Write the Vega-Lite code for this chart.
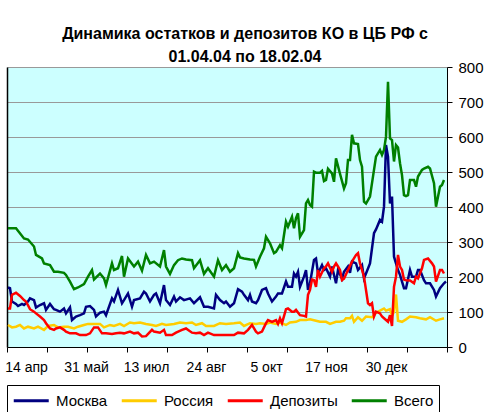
{
"$schema":"https://vega.github.io/schema/vega-lite/v6.json",
"width":440,"height":280,
"autosize":{"type":"none"},
"padding":{"left":7,"top":67,"right":39,"bottom":65},
"background":"white",
"title":{"text":["Динамика остатков и депозитов КО в ЦБ РФ с","01.04.04 по 18.02.04"],"fontSize":16,"fontWeight":"bold","font":"Liberation Sans","color":"black","lineHeight":23,"offset":-5,"anchor":"middle","dx":18},
"config":{"view":{"fill":"#CCFFFF","stroke":null},"font":"Liberation Sans"},
"datasets":{"d":[
{"n":0,"s":"Москва","v":170},{"n":1,"s":"Москва","v":168},{"n":2,"s":"Москва","v":130},{"n":4,"s":"Москва","v":123},{"n":5,"s":"Москва","v":117},{"n":7,"s":"Москва","v":123},{"n":8,"s":"Москва","v":120},{"n":10,"s":"Москва","v":130},{"n":11,"s":"Москва","v":139},{"n":13,"s":"Москва","v":134},{"n":14,"s":"Москва","v":113},{"n":16,"s":"Москва","v":120},{"n":18,"s":"Москва","v":125},{"n":19,"s":"Москва","v":106},{"n":21,"s":"Москва","v":123},{"n":23,"s":"Москва","v":108},{"n":24,"s":"Москва","v":106},{"n":26,"s":"Москва","v":101},{"n":28,"s":"Москва","v":110},{"n":29,"s":"Москва","v":96},{"n":31,"s":"Москва","v":113},{"n":32,"s":"Москва","v":77},{"n":34,"s":"Москва","v":87},{"n":36,"s":"Москва","v":91},{"n":38,"s":"Москва","v":96},{"n":39,"s":"Москва","v":115},{"n":41,"s":"Москва","v":117},{"n":43,"s":"Москва","v":106},{"n":44,"s":"Москва","v":87},{"n":46,"s":"Москва","v":98},{"n":48,"s":"Москва","v":101},{"n":49,"s":"Москва","v":91},{"n":52,"s":"Москва","v":139},{"n":53,"s":"Москва","v":130},{"n":55,"s":"Москва","v":163},{"n":57,"s":"Москва","v":125},{"n":58,"s":"Москва","v":134},{"n":60,"s":"Москва","v":153},{"n":62,"s":"Москва","v":115},{"n":63,"s":"Москва","v":134},{"n":66,"s":"Москва","v":139},{"n":68,"s":"Москва","v":158},{"n":69,"s":"Москва","v":153},{"n":71,"s":"Москва","v":130},{"n":73,"s":"Москва","v":149},{"n":74,"s":"Москва","v":153},{"n":76,"s":"Москва","v":125},{"n":78,"s":"Москва","v":177},{"n":79,"s":"Москва","v":134},{"n":81,"s":"Москва","v":120},{"n":83,"s":"Москва","v":144},{"n":84,"s":"Москва","v":130},{"n":86,"s":"Москва","v":142},{"n":88,"s":"Москва","v":134},{"n":91,"s":"Москва","v":139},{"n":93,"s":"Москва","v":125},{"n":96,"s":"Москва","v":142},{"n":98,"s":"Москва","v":115},{"n":100,"s":"Москва","v":115},{"n":103,"s":"Москва","v":110},{"n":104,"s":"Москва","v":149},{"n":106,"s":"Москва","v":134},{"n":108,"s":"Москва","v":125},{"n":109,"s":"Москва","v":130},{"n":111,"s":"Москва","v":115},{"n":113,"s":"Москва","v":125},{"n":115,"s":"Москва","v":165},{"n":117,"s":"Москва","v":158},{"n":118,"s":"Москва","v":149},{"n":120,"s":"Москва","v":134},{"n":121,"s":"Москва","v":149},{"n":122,"s":"Москва","v":130},{"n":124,"s":"Москва","v":125},{"n":125,"s":"Москва","v":134},{"n":127,"s":"Москва","v":163},{"n":129,"s":"Москва","v":168},{"n":130,"s":"Москва","v":153},{"n":132,"s":"Москва","v":130},{"n":134,"s":"Москва","v":144},{"n":135,"s":"Москва","v":153},{"n":137,"s":"Москва","v":153},{"n":139,"s":"Москва","v":187},{"n":140,"s":"Москва","v":172},{"n":142,"s":"Москва","v":172},{"n":143,"s":"Москва","v":210},{"n":144,"s":"Москва","v":201},{"n":145,"s":"Москва","v":215},{"n":146,"s":"Москва","v":172},{"n":148,"s":"Москва","v":201},{"n":149,"s":"Москва","v":220},{"n":150,"s":"Москва","v":163},{"n":151,"s":"Москва","v":182},{"n":153,"s":"Москва","v":249},{"n":154,"s":"Москва","v":253},{"n":155,"s":"Москва","v":210},{"n":157,"s":"Москва","v":234},{"n":158,"s":"Москва","v":220},{"n":159,"s":"Москва","v":225},{"n":161,"s":"Москва","v":201},{"n":162,"s":"Москва","v":230},{"n":164,"s":"Москва","v":182},{"n":165,"s":"Москва","v":220},{"n":167,"s":"Москва","v":195},{"n":168,"s":"Москва","v":215},{"n":170,"s":"Москва","v":230},{"n":171,"s":"Москва","v":212},{"n":172,"s":"Москва","v":244},{"n":174,"s":"Москва","v":239},{"n":175,"s":"Москва","v":220},{"n":177,"s":"Москва","v":234},{"n":178,"s":"Москва","v":196},{"n":179,"s":"Москва","v":210},{"n":181,"s":"Москва","v":239},{"n":183,"s":"Москва","v":325},{"n":184,"s":"Москва","v":336},{"n":186,"s":"Москва","v":363},{"n":187,"s":"Москва","v":358},{"n":188,"s":"Москва","v":401},{"n":189,"s":"Москва","v":577},{"n":190,"s":"Москва","v":544},{"n":191,"s":"Москва","v":410},{"n":192,"s":"Москва","v":430},{"n":193,"s":"Москва","v":258},{"n":194,"s":"Москва","v":239},{"n":195,"s":"Москва","v":220},{"n":196,"s":"Москва","v":206},{"n":198,"s":"Москва","v":168},{"n":199,"s":"Москва","v":168},{"n":201,"s":"Москва","v":220},{"n":202,"s":"Москва","v":201},{"n":204,"s":"Москва","v":201},{"n":205,"s":"Москва","v":220},{"n":206,"s":"Москва","v":220},{"n":208,"s":"Москва","v":191},{"n":209,"s":"Москва","v":182},{"n":211,"s":"Москва","v":182},{"n":213,"s":"Москва","v":163},{"n":214,"s":"Москва","v":144},{"n":216,"s":"Москва","v":168},{"n":218,"s":"Москва","v":182},{"n":219,"s":"Москва","v":187},
{"n":0,"s":"Россия","v":63},{"n":2,"s":"Россия","v":56},{"n":4,"s":"Россия","v":58},{"n":6,"s":"Россия","v":63},{"n":8,"s":"Россия","v":53},{"n":10,"s":"Россия","v":58},{"n":13,"s":"Россия","v":53},{"n":15,"s":"Россия","v":58},{"n":18,"s":"Россия","v":49},{"n":20,"s":"Россия","v":60},{"n":23,"s":"Россия","v":63},{"n":25,"s":"Россия","v":56},{"n":28,"s":"Россия","v":58},{"n":30,"s":"Россия","v":58},{"n":33,"s":"Россия","v":53},{"n":35,"s":"Россия","v":58},{"n":38,"s":"Россия","v":63},{"n":40,"s":"Россия","v":66},{"n":43,"s":"Россия","v":66},{"n":46,"s":"Россия","v":66},{"n":48,"s":"Россия","v":56},{"n":51,"s":"Россия","v":63},{"n":53,"s":"Россия","v":60},{"n":56,"s":"Россия","v":66},{"n":58,"s":"Россия","v":60},{"n":61,"s":"Россия","v":70},{"n":63,"s":"Россия","v":68},{"n":66,"s":"Россия","v":70},{"n":69,"s":"Россия","v":66},{"n":72,"s":"Россия","v":63},{"n":74,"s":"Россия","v":60},{"n":77,"s":"Россия","v":66},{"n":79,"s":"Россия","v":63},{"n":83,"s":"Россия","v":66},{"n":86,"s":"Россия","v":70},{"n":89,"s":"Россия","v":68},{"n":92,"s":"Россия","v":70},{"n":94,"s":"Россия","v":63},{"n":97,"s":"Россия","v":68},{"n":99,"s":"Россия","v":60},{"n":103,"s":"Россия","v":60},{"n":106,"s":"Россия","v":68},{"n":109,"s":"Россия","v":66},{"n":113,"s":"Россия","v":68},{"n":116,"s":"Россия","v":70},{"n":118,"s":"Россия","v":60},{"n":121,"s":"Россия","v":68},{"n":124,"s":"Россия","v":66},{"n":126,"s":"Россия","v":68},{"n":129,"s":"Россия","v":66},{"n":131,"s":"Россия","v":70},{"n":134,"s":"Россия","v":66},{"n":136,"s":"Россия","v":70},{"n":139,"s":"Россия","v":63},{"n":141,"s":"Россия","v":70},{"n":144,"s":"Россия","v":72},{"n":146,"s":"Россия","v":77},{"n":149,"s":"Россия","v":77},{"n":151,"s":"Россия","v":79},{"n":154,"s":"Россия","v":75},{"n":156,"s":"Россия","v":72},{"n":159,"s":"Россия","v":72},{"n":161,"s":"Россия","v":66},{"n":164,"s":"Россия","v":72},{"n":166,"s":"Россия","v":72},{"n":168,"s":"Россия","v":75},{"n":169,"s":"Россия","v":82},{"n":171,"s":"Россия","v":82},{"n":172,"s":"Россия","v":89},{"n":173,"s":"Россия","v":72},{"n":175,"s":"Россия","v":85},{"n":177,"s":"Россия","v":75},{"n":179,"s":"Россия","v":87},{"n":182,"s":"Россия","v":85},{"n":184,"s":"Россия","v":98},{"n":186,"s":"Россия","v":104},{"n":188,"s":"Россия","v":110},{"n":189,"s":"Россия","v":104},{"n":191,"s":"Россия","v":108},{"n":192,"s":"Россия","v":89},{"n":193,"s":"Россия","v":100},{"n":194,"s":"Россия","v":150},{"n":195,"s":"Россия","v":75},{"n":197,"s":"Россия","v":72},{"n":199,"s":"Россия","v":79},{"n":201,"s":"Россия","v":87},{"n":204,"s":"Россия","v":85},{"n":206,"s":"Россия","v":82},{"n":209,"s":"Россия","v":79},{"n":211,"s":"Россия","v":85},{"n":214,"s":"Россия","v":75},{"n":216,"s":"Россия","v":79},{"n":218,"s":"Россия","v":82},
{"n":0,"s":"Депозиты","v":110},{"n":1,"s":"Депозиты","v":110},{"n":2,"s":"Депозиты","v":149},{"n":4,"s":"Депозиты","v":155},{"n":6,"s":"Депозиты","v":146},{"n":8,"s":"Депозиты","v":134},{"n":9,"s":"Депозиты","v":130},{"n":11,"s":"Депозиты","v":108},{"n":13,"s":"Депозиты","v":101},{"n":14,"s":"Депозиты","v":96},{"n":16,"s":"Депозиты","v":87},{"n":18,"s":"Депозиты","v":77},{"n":19,"s":"Депозиты","v":68},{"n":21,"s":"Депозиты","v":53},{"n":23,"s":"Депозиты","v":49},{"n":24,"s":"Депозиты","v":53},{"n":26,"s":"Депозиты","v":56},{"n":28,"s":"Депозиты","v":49},{"n":29,"s":"Депозиты","v":44},{"n":31,"s":"Депозиты","v":39},{"n":34,"s":"Депозиты","v":39},{"n":36,"s":"Депозиты","v":34},{"n":39,"s":"Депозиты","v":34},{"n":41,"s":"Депозиты","v":39},{"n":43,"s":"Депозиты","v":56},{"n":45,"s":"Депозиты","v":56},{"n":47,"s":"Депозиты","v":39},{"n":49,"s":"Депозиты","v":39},{"n":52,"s":"Депозиты","v":37},{"n":54,"s":"Депозиты","v":39},{"n":56,"s":"Депозиты","v":41},{"n":58,"s":"Депозиты","v":39},{"n":61,"s":"Депозиты","v":44},{"n":63,"s":"Депозиты","v":39},{"n":65,"s":"Депозиты","v":41},{"n":67,"s":"Депозиты","v":30},{"n":69,"s":"Депозиты","v":31},{"n":72,"s":"Депозиты","v":49},{"n":73,"s":"Депозиты","v":44},{"n":76,"s":"Депозиты","v":41},{"n":78,"s":"Депозиты","v":49},{"n":79,"s":"Депозиты","v":34},{"n":82,"s":"Депозиты","v":34},{"n":84,"s":"Депозиты","v":41},{"n":87,"s":"Депозиты","v":49},{"n":89,"s":"Депозиты","v":53},{"n":92,"s":"Депозиты","v":41},{"n":94,"s":"Депозиты","v":39},{"n":96,"s":"Депозиты","v":41},{"n":98,"s":"Депозиты","v":34},{"n":100,"s":"Депозиты","v":41},{"n":103,"s":"Депозиты","v":34},{"n":106,"s":"Депозиты","v":34},{"n":109,"s":"Депозиты","v":34},{"n":113,"s":"Депозиты","v":34},{"n":115,"s":"Депозиты","v":41},{"n":118,"s":"Депозиты","v":39},{"n":120,"s":"Депозиты","v":49},{"n":122,"s":"Депозиты","v":63},{"n":124,"s":"Депозиты","v":44},{"n":125,"s":"Депозиты","v":39},{"n":127,"s":"Депозиты","v":44},{"n":129,"s":"Депозиты","v":68},{"n":130,"s":"Депозиты","v":77},{"n":132,"s":"Депозиты","v":72},{"n":134,"s":"Депозиты","v":77},{"n":135,"s":"Депозиты","v":66},{"n":136,"s":"Депозиты","v":82},{"n":137,"s":"Депозиты","v":68},{"n":139,"s":"Депозиты","v":108},{"n":140,"s":"Депозиты","v":110},{"n":142,"s":"Депозиты","v":101},{"n":143,"s":"Депозиты","v":101},{"n":144,"s":"Депозиты","v":106},{"n":146,"s":"Депозиты","v":91},{"n":148,"s":"Депозиты","v":89},{"n":149,"s":"Депозиты","v":87},{"n":150,"s":"Депозиты","v":149},{"n":151,"s":"Депозиты","v":163},{"n":152,"s":"Депозиты","v":193},{"n":153,"s":"Депозиты","v":191},{"n":154,"s":"Депозиты","v":172},{"n":155,"s":"Депозиты","v":220},{"n":156,"s":"Депозиты","v":201},{"n":158,"s":"Депозиты","v":225},{"n":159,"s":"Депозиты","v":230},{"n":160,"s":"Депозиты","v":239},{"n":162,"s":"Депозиты","v":215},{"n":163,"s":"Депозиты","v":230},{"n":164,"s":"Депозиты","v":239},{"n":165,"s":"Депозиты","v":230},{"n":166,"s":"Депозиты","v":220},{"n":167,"s":"Депозиты","v":191},{"n":168,"s":"Депозиты","v":195},{"n":170,"s":"Депозиты","v":220},{"n":172,"s":"Депозиты","v":244},{"n":174,"s":"Депозиты","v":263},{"n":175,"s":"Депозиты","v":268},{"n":176,"s":"Депозиты","v":239},{"n":177,"s":"Депозиты","v":220},{"n":178,"s":"Депозиты","v":201},{"n":180,"s":"Депозиты","v":125},{"n":181,"s":"Депозиты","v":120},{"n":182,"s":"Депозиты","v":125},{"n":183,"s":"Депозиты","v":87},{"n":184,"s":"Депозиты","v":101},{"n":186,"s":"Депозиты","v":96},{"n":187,"s":"Депозиты","v":87},{"n":188,"s":"Депозиты","v":82},{"n":190,"s":"Депозиты","v":72},{"n":191,"s":"Депозиты","v":91},{"n":192,"s":"Депозиты","v":60},{"n":193,"s":"Депозиты","v":172},{"n":194,"s":"Депозиты","v":201},{"n":195,"s":"Депозиты","v":263},{"n":196,"s":"Депозиты","v":230},{"n":197,"s":"Депозиты","v":220},{"n":198,"s":"Депозиты","v":193},{"n":199,"s":"Депозиты","v":191},{"n":201,"s":"Депозиты","v":190},{"n":203,"s":"Депозиты","v":182},{"n":204,"s":"Депозиты","v":201},{"n":205,"s":"Депозиты","v":196},{"n":207,"s":"Депозиты","v":225},{"n":208,"s":"Депозиты","v":249},{"n":210,"s":"Депозиты","v":253},{"n":212,"s":"Депозиты","v":239},{"n":213,"s":"Депозиты","v":230},{"n":214,"s":"Депозиты","v":187},{"n":216,"s":"Депозиты","v":220},{"n":217,"s":"Депозиты","v":220},{"n":218,"s":"Депозиты","v":210},
{"n":0,"s":"Всего","v":339},{"n":4,"s":"Всего","v":339},{"n":8,"s":"Всего","v":310},{"n":10,"s":"Всего","v":307},{"n":13,"s":"Всего","v":287},{"n":14,"s":"Всего","v":263},{"n":17,"s":"Всего","v":253},{"n":18,"s":"Всего","v":239},{"n":21,"s":"Всего","v":234},{"n":23,"s":"Всего","v":215},{"n":25,"s":"Всего","v":215},{"n":28,"s":"Всего","v":212},{"n":29,"s":"Всего","v":206},{"n":31,"s":"Всего","v":187},{"n":33,"s":"Всего","v":165},{"n":35,"s":"Всего","v":170},{"n":38,"s":"Всего","v":180},{"n":40,"s":"Всего","v":201},{"n":42,"s":"Всего","v":220},{"n":43,"s":"Всего","v":193},{"n":46,"s":"Всего","v":210},{"n":48,"s":"Всего","v":196},{"n":49,"s":"Всего","v":177},{"n":52,"s":"Всего","v":239},{"n":53,"s":"Всего","v":220},{"n":55,"s":"Всего","v":225},{"n":57,"s":"Всего","v":260},{"n":58,"s":"Всего","v":201},{"n":60,"s":"Всего","v":253},{"n":63,"s":"Всего","v":230},{"n":65,"s":"Всего","v":244},{"n":67,"s":"Всего","v":218},{"n":69,"s":"Всего","v":263},{"n":71,"s":"Всего","v":239},{"n":73,"s":"Всего","v":244},{"n":76,"s":"Всего","v":230},{"n":78,"s":"Всего","v":277},{"n":79,"s":"Всего","v":230},{"n":81,"s":"Всего","v":209},{"n":83,"s":"Всего","v":234},{"n":85,"s":"Всего","v":248},{"n":87,"s":"Всего","v":253},{"n":89,"s":"Всего","v":250},{"n":92,"s":"Всего","v":248},{"n":93,"s":"Всего","v":225},{"n":96,"s":"Всего","v":248},{"n":98,"s":"Всего","v":209},{"n":100,"s":"Всего","v":225},{"n":103,"s":"Всего","v":201},{"n":105,"s":"Всего","v":248},{"n":107,"s":"Всего","v":220},{"n":109,"s":"Всего","v":234},{"n":111,"s":"Всего","v":215},{"n":113,"s":"Всего","v":225},{"n":115,"s":"Всего","v":268},{"n":116,"s":"Всего","v":256},{"n":118,"s":"Всего","v":253},{"n":121,"s":"Всего","v":250},{"n":123,"s":"Всего","v":249},{"n":124,"s":"Всего","v":230},{"n":126,"s":"Всего","v":258},{"n":128,"s":"Всего","v":282},{"n":129,"s":"Всего","v":315},{"n":131,"s":"Всего","v":296},{"n":133,"s":"Всего","v":268},{"n":134,"s":"Всего","v":272},{"n":136,"s":"Всего","v":291},{"n":137,"s":"Всего","v":282},{"n":139,"s":"Всего","v":358},{"n":140,"s":"Всего","v":344},{"n":142,"s":"Всего","v":372},{"n":143,"s":"Всего","v":339},{"n":144,"s":"Всего","v":368},{"n":145,"s":"Всего","v":382},{"n":146,"s":"Всего","v":315},{"n":148,"s":"Всего","v":334},{"n":149,"s":"Всего","v":410},{"n":150,"s":"Всего","v":420},{"n":151,"s":"Всего","v":406},{"n":152,"s":"Всего","v":401},{"n":153,"s":"Всего","v":501},{"n":154,"s":"Всего","v":498},{"n":156,"s":"Всего","v":498},{"n":157,"s":"Всего","v":503},{"n":158,"s":"Всего","v":474},{"n":159,"s":"Всего","v":477},{"n":160,"s":"Всего","v":509},{"n":162,"s":"Всего","v":496},{"n":163,"s":"Всего","v":472},{"n":164,"s":"Всего","v":539},{"n":166,"s":"Всего","v":495},{"n":168,"s":"Всего","v":453},{"n":169,"s":"Всего","v":468},{"n":170,"s":"Всего","v":534},{"n":171,"s":"Всего","v":534},{"n":172,"s":"Всего","v":606},{"n":173,"s":"Всего","v":582},{"n":175,"s":"Всего","v":580},{"n":176,"s":"Всего","v":534},{"n":177,"s":"Всего","v":515},{"n":178,"s":"Всего","v":415},{"n":179,"s":"Всего","v":410},{"n":181,"s":"Всего","v":430},{"n":183,"s":"Всего","v":506},{"n":184,"s":"Всего","v":544},{"n":186,"s":"Всего","v":563},{"n":187,"s":"Всего","v":549},{"n":188,"s":"Всего","v":563},{"n":189,"s":"Всего","v":601},{"n":190,"s":"Всего","v":758},{"n":191,"s":"Всего","v":596},{"n":192,"s":"Всего","v":591},{"n":193,"s":"Всего","v":530},{"n":194,"s":"Всего","v":577},{"n":195,"s":"Всего","v":570},{"n":196,"s":"Всего","v":525},{"n":197,"s":"Всего","v":491},{"n":198,"s":"Всего","v":434},{"n":199,"s":"Всего","v":431},{"n":200,"s":"Всего","v":434},{"n":201,"s":"Всего","v":477},{"n":203,"s":"Всего","v":477},{"n":204,"s":"Всего","v":458},{"n":205,"s":"Всего","v":487},{"n":207,"s":"Всего","v":506},{"n":208,"s":"Всего","v":510},{"n":210,"s":"Всего","v":515},{"n":211,"s":"Всего","v":510},{"n":213,"s":"Всего","v":468},{"n":214,"s":"Всего","v":401},{"n":216,"s":"Всего","v":458},{"n":217,"s":"Всего","v":463},{"n":218,"s":"Всего","v":477}
]},
"data":{"name":"d"},
"layer":[
{"mark":{"type":"line","strokeWidth":2.5},
 "encoding":{
  "x":{"field":"n","type":"quantitative","scale":{"domain":[-0.5,219.5],"nice":false,"zero":false},
   "axis":{"orient":"bottom","values":[9,39,69,99,129,159,189],"labelExpr":"datum.value==9?'14 апр':datum.value==39?'31 май':datum.value==69?'13 июл':datum.value==99?'24 авг':datum.value==129?'5 окт':datum.value==159?'17 ноя':'30 дек'","ticks":false,"grid":false,"domainColor":"black","domainWidth":1,"labelFontSize":14,"labelColor":"black","labelPadding":13,"labelFlush":false,"labelOverlap":false,"title":null}},
  "y":{"field":"v","type":"quantitative","scale":{"domain":[0,800],"nice":false},
   "axis":{"orient":"right","values":[0,100,200,300,400,500,600,700,800],"grid":true,"gridColor":"#999999","gridWidth":1,"domainColor":"black","tickColor":"black","tickSize":5,"labelFontSize":15,"labelColor":"black","labelPadding":6,"title":null}},
  "color":{"field":"s","type":"nominal","sort":["Москва","Россия","Депозиты","Всего"],
   "scale":{"domain":["Москва","Россия","Депозиты","Всего"],"range":["#000080","#FFCC00","#FF0000","#008000"]},
   "legend":{"orient":"none","legendX":0,"legendY":318,"direction":"horizontal","columns":4,"title":null,"symbolType":"M-1,0H3","symbolSize":306,"symbolStrokeWidth":3,"labelFontSize":15,"labelColor":"black","strokeColor":"black","fillColor":"white","padding":5,"columnPadding":7,"labelOffset":23}}
 }},
{"mark":{"type":"point","opacity":0},
 "encoding":{
  "x":{"field":"n","type":"quantitative","scale":{"domain":[-0.5,219.5],"nice":false,"zero":false},
   "axis":{"orient":"bottom","values":[-0.5,19.5,39.5,59.5,79.5,99.5,119.5,139.5,159.5,179.5,199.5,219.5],"labels":false,"ticks":true,"tickColor":"black","tickSize":5,"domain":false,"grid":false,"title":null}},
  "y":{"field":"v","type":"quantitative","scale":{"domain":[0,800],"nice":false},
   "axis":{"orient":"left","labels":false,"ticks":false,"grid":false,"domainColor":"black","domainWidth":1.5,"title":null}}
 }}
],
"resolve":{"axis":{"x":"independent","y":"independent"}}
}
